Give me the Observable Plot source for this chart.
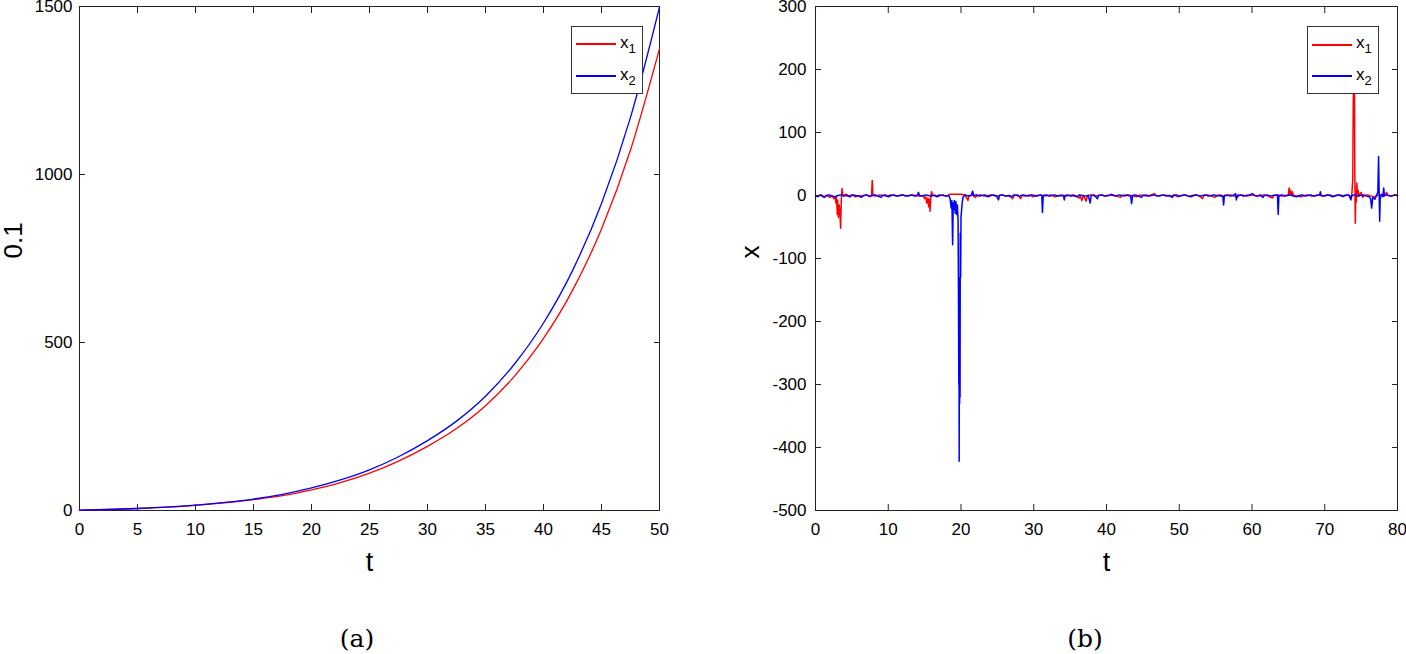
<!DOCTYPE html>
<html><head><meta charset="utf-8">
<script src="https://cdn.jsdelivr.net/npm/d3@7"></script>
<script src="https://cdn.jsdelivr.net/npm/@observablehq/plot@0.6"></script>
<style>
body{margin:0;background:#fff;}
#wrap{position:relative;width:1406px;height:654px;overflow:hidden;font-family:"Liberation Sans",Arial,sans-serif;background:#fff;}
.panel{position:absolute;top:0;width:703px;}
.legend{position:absolute;box-sizing:border-box;width:72px;height:68px;background:#fff;border:1px solid #333;}
.legend .ln{position:absolute;left:4px;width:40px;height:2px;}
.legend .lb{position:absolute;left:48px;font-size:17px;line-height:17px;color:#000;white-space:nowrap;}
.legend .lb span{position:relative;top:5px;font-size:13px;}
.cap{position:absolute;top:624px;font-family:"DejaVu Serif",serif;font-size:25px;transform:translateX(-50%);color:#000;}
</style></head>
<body>
<div id="wrap">
  <div class="panel" id="pa" style="left:0"></div>
  <div class="panel" id="pb" style="left:703px"></div>
  <div class="legend" style="left:571px;top:26px">
    <div class="ln" style="top:16px;background:#ff0000"></div><div class="lb" style="top:7px">x<span>1</span></div>
    <div class="ln" style="top:48px;background:#0000ff"></div><div class="lb" style="top:39px">x<span>2</span></div>
  </div>
  <div class="legend" style="left:1307px;top:26px">
    <div class="ln" style="top:17px;background:#ff0000"></div><div class="lb" style="top:7px">x<span>1</span></div>
    <div class="ln" style="top:48px;background:#0000ff"></div><div class="lb" style="top:39px">x<span>2</span></div>
  </div>
  <div class="cap" style="left:357px">(a)</div>
  <div class="cap" style="left:1085px">(b)</div>
</div>
<script>
// ---------- Panel (a) data ----------
const tA  = [0, 2.5, 5, 7.5, 10, 12.5, 15, 17.5, 20, 22.5, 25, 27.5, 30, 32.5, 35, 37.5, 40, 42.5, 45, 47.5, 50];
const x1A = [1, 3, 6, 10, 15.5, 23, 32.5, 44, 61.5, 83, 111, 147, 191, 244, 312, 400, 512, 655, 838, 1073, 1374];
const x2A = [1, 3, 6, 10, 16, 24, 34, 48, 67, 91, 121, 160, 208, 266, 340, 436, 558, 714, 914, 1170, 1498];
const xTicksA = [0, 5, 10, 15, 20, 25, 30, 35, 40, 45, 50];
const yTicksA = [0, 500, 1000, 1500];

// ---------- Panel (b) data: [t, value] ----------
const x1B = [[0,0],[0.4,-1],[0.8,1],[1.2,-2],[1.6,0],[2,-3],[2.3,0],[2.5,-5],[2.7,-2],[2.8,-12],[2.9,-4],[3.0,-30],[3.05,-8],[3.15,-35],[3.25,-15],[3.35,-25],[3.45,-52],[3.55,-6],[3.65,11],[3.75,0],[4.2,2],[4.6,-1],[5,1],[5.5,-2],[6,0],[6.5,-1],[7,1],[7.5,-2],[7.7,0],[7.8,24],[7.9,0],[8.3,-1],[8.8,1],[9.3,0],[9.8,-1],[10.3,1],[10.8,0],[11.3,-1],[11.8,1],[12.3,0],[12.8,-1],[13.3,1],[13.8,0],[14.3,-1],[14.8,0],[15.0,-5],[15.15,-2],[15.3,-12],[15.45,-4],[15.55,-18],[15.65,-6],[15.75,-25],[15.85,-2],[15.95,6],[16.1,0],[16.5,-1],[17,1],[17.5,0],[18,-1],[18.5,2],[19,2],[19.5,2],[20,2],[20.5,1],[20.8,-4],[20.95,-8],[21.1,0],[21.5,1],[22,-3],[22.2,0],[22.7,1],[23.2,-1],[23.7,0],[24.2,1],[24.7,-1],[25.2,0],[25.7,1],[26.2,-1],[26.7,0],[27.1,-5],[27.3,0],[27.8,1],[28.2,-5],[28.4,0],[28.9,-1],[29.4,1],[29.9,-2],[30.4,0],[30.9,1],[31.4,-1],[31.9,0],[32.4,1],[32.9,-2],[33.4,0],[33.9,1],[34.4,-1],[34.9,0],[35.4,1],[35.9,-1],[36.2,-4],[36.4,-1],[36.6,-8],[36.8,-1],[37.0,-3],[37.2,-9],[37.4,0],[37.9,1],[38.4,-1],[38.9,0],[39.4,1],[39.9,-1],[40.4,0],[40.9,1],[41.4,-1],[41.9,-3],[42.1,0],[42.6,1],[43.1,-1],[43.6,0],[44.1,-2],[44.6,1],[45.1,0],[45.6,-1],[46.1,1],[46.6,3],[46.8,0],[47.3,-1],[47.8,1],[48.3,0],[48.8,-1],[49.3,1],[49.8,-2],[50.3,0],[50.8,1],[51.3,-1],[51.8,0],[52.3,1],[52.8,-1],[53.2,-5],[53.4,0],[53.9,1],[54.4,-1],[54.9,-3],[55.1,0],[55.6,1],[56.1,-1],[56.6,0],[57.1,1],[57.6,-1],[58.0,-3],[58.2,0],[58.7,1],[59.2,-1],[59.7,0],[60.2,1],[60.7,-1],[61.2,0],[61.7,1],[62.2,-1],[62.8,-4],[63.0,0],[63.5,1],[64,-1],[64.5,0],[65.0,1],[65.1,12],[65.2,2],[65.3,8],[65.4,0],[65.55,6],[65.7,0],[66.2,-1],[66.7,-2],[67.2,0],[67.7,1],[68.2,-1],[68.7,0],[69.2,1],[69.7,-1],[70.2,0],[70.7,1],[71.2,-1],[71.7,0],[72.2,1],[72.5,-2],[72.8,0],[73.3,1],[73.5,-5],[73.7,-2],[73.85,25],[73.92,150],[73.98,190],[74.03,110],[74.08,185],[74.13,40],[74.2,-44],[74.27,5],[74.33,-10],[74.4,20],[74.5,2],[74.6,8],[74.7,-1],[75,5],[75.2,-3],[75.4,0],[75.9,1],[76.4,-1],[76.9,-2],[77.2,0],[77.7,1],[78.2,-1],[78.5,5],[78.7,0],[79.2,-1],[79.6,1],[80,0]];
const x2B = [[0,0],[0.3,-2],[0.6,1],[0.9,-1],[1.2,-3],[1.5,0],[1.9,1],[2.3,-1],[2.7,-2],[3.1,0],[3.5,1],[3.9,-1],[4.3,0],[4.7,-2],[5.1,1],[5.5,0],[5.9,-1],[6.3,-3],[6.6,0],[7,1],[7.4,-1],[7.8,0],[8.2,1],[8.6,-1],[9.0,-3],[9.2,0],[9.6,1],[10,-2],[10.4,0],[10.8,1],[11.2,-1],[11.6,0],[12,1],[12.4,-1],[12.8,0],[13.2,1],[13.6,-1],[14.0,0],[14.15,5],[14.3,0],[14.7,-1],[15.1,1],[15.5,0],[15.9,-1],[16.3,1],[16.7,-2],[17.1,0],[17.5,1],[17.9,-1],[18.3,0],[18.5,-5],[18.65,-20],[18.75,-8],[18.85,-78],[18.93,-12],[19.0,-22],[19.1,-8],[19.2,-28],[19.3,-10],[19.4,-30],[19.5,-15],[19.6,-40],[19.65,-150],[19.7,-300],[19.72,-140],[19.75,-422],[19.78,-210],[19.81,-330],[19.84,-130],[19.87,-320],[19.9,-60],[19.95,-130],[20.0,-35],[20.1,-20],[20.2,-8],[20.3,-2],[20.6,1],[21.0,-1],[21.4,0],[21.6,7],[21.75,0],[22.1,1],[22.5,-1],[22.9,0],[23.3,1],[23.7,-2],[24.1,0],[24.5,1],[24.9,-1],[25.15,-7],[25.3,0],[25.7,1],[26.1,-1],[26.5,0],[26.9,-2],[27.3,1],[27.7,0],[28.1,-1],[28.5,1],[28.9,0],[29.3,-1],[29.7,1],[30.1,0],[30.5,-1],[30.9,1],[31.1,0],[31.2,-27],[31.3,0],[31.7,1],[32.1,-1],[32.5,0],[32.9,1],[33.3,-1],[33.7,0],[34.1,-1],[34.2,-7],[34.3,0],[34.7,1],[35.1,-1],[35.5,0],[35.9,-2],[36.3,1],[36.7,0],[37.1,-1],[37.5,0],[37.75,-12],[37.9,0],[38.3,1],[38.75,-5],[38.9,0],[39.3,1],[39.7,-1],[40.1,0],[40.5,1],[40.7,2],[40.9,0],[41.3,-1],[41.7,1],[42.1,0],[42.5,-1],[42.9,1],[43.3,0],[43.45,-13],[43.6,0],[44.0,1],[44.4,-1],[44.8,-3],[45.0,0],[45.4,1],[45.8,-1],[46.2,0],[46.6,1],[47.0,-1],[47.4,0],[47.8,1],[48.2,-1],[48.6,0],[49.05,-3],[49.2,0],[49.6,1],[50,-1],[50.4,0],[50.8,1],[51.2,-1],[51.6,-2],[52.0,0],[52.4,1],[52.8,-1],[53.2,0],[53.6,1],[54.0,-1],[54.4,0],[54.8,1],[55.2,-1],[55.6,0],[56.0,-2],[56.1,-15],[56.2,0],[56.6,1],[57.0,-1],[57.4,0],[57.75,3],[57.85,-7],[57.95,0],[58.4,1],[58.8,-1],[59.2,0],[59.6,1],[60.1,3],[60.3,0],[60.7,-1],[61.1,1],[61.5,-3],[61.7,0],[62.1,1],[62.5,-1],[62.9,0],[63.3,1],[63.5,0],[63.6,-30],[63.7,0],[64.1,1],[64.5,-1],[64.9,0],[65.3,1],[65.7,-1],[66.1,-2],[66.5,0],[66.9,1],[67.3,-1],[67.7,0],[68.1,1],[68.5,-1],[68.9,0],[69.3,1],[69.4,6],[69.5,0],[69.9,-1],[70.3,1],[70.7,0],[71.1,-2],[71.5,0],[71.9,1],[72.3,-1],[72.7,0],[73.1,1],[73.5,-1],[73.6,-7],[73.7,0],[74.1,1],[74.5,-1],[74.9,0],[75.3,1],[75.7,-1],[76.1,-2],[76.3,-5],[76.45,-20],[76.6,-3],[76.9,-6],[77.1,0],[77.3,5],[77.4,62],[77.47,10],[77.55,-41],[77.62,-5],[77.8,2],[78.0,-2],[78.1,12],[78.2,0],[78.6,1],[79,-1],[79.4,0],[79.8,1],[80,-1]];
const xTicksB = [0, 10, 20, 30, 40, 50, 60, 70, 80];
const yTicksB = [-500, -400, -300, -200, -100, 0, 100, 200, 300];

const fmt = d => String(d);
const baseStyle = {fontFamily: '"Liberation Sans", Arial, sans-serif', fontSize: "17px", color: "#000", background: "#fff", overflow: "visible"};

const plotA = Plot.plot({
  width: 703, height: 610,
  marginLeft: 79, marginRight: 44, marginTop: 6, marginBottom: 100,
  style: baseStyle,
  x: {domain: [0, 50]},
  y: {domain: [0, 1500]},
  marks: [
    Plot.frame({stroke: "#222"}),
    Plot.axisX({ticks: xTicksA, tickSize: -6, tickPadding: 18, tickFormat: fmt, label: null, stroke: "#222"}),
    Plot.axisX({anchor: "top", ticks: xTicksA, tickSize: -6, tickFormat: () => "", label: null, stroke: "#222"}),
    Plot.axisY({ticks: yTicksA, tickSize: -6, tickPadding: 13, tickFormat: fmt, label: null, stroke: "#222"}),
    Plot.axisY({anchor: "right", ticks: yTicksA, tickSize: -6, tickFormat: () => "", label: null, stroke: "#222"}),
    Plot.line(tA, {x: d => d, y: (d, i) => x1A[i], stroke: "#ff0000", strokeWidth: 1.3, curve: "monotone-x"}),
    Plot.line(tA, {x: d => d, y: (d, i) => x2A[i], stroke: "#0000ff", strokeWidth: 1.3, curve: "monotone-x"}),
    Plot.text(["t"], {text: d => d, frameAnchor: "bottom", dy: 60, fontSize: 27}),
    Plot.text(["0.1"], {text: d => d, frameAnchor: "left", dx: -66, rotate: -90, fontSize: 26})
  ]
});
document.getElementById("pa").append(plotA);

const plotB = Plot.plot({
  width: 703, height: 610,
  marginLeft: 112, marginRight: 9, marginTop: 6, marginBottom: 100,
  style: baseStyle,
  x: {domain: [0, 80]},
  y: {domain: [-500, 300]},
  marks: [
    Plot.line(x1B, {x: d => d[0], y: d => d[1], stroke: "#ff0000", strokeWidth: 1.5}),
    Plot.line(x2B, {x: d => d[0], y: d => d[1], stroke: "#0000ff", strokeWidth: 1.5}),
    Plot.frame({stroke: "#222"}),
    Plot.axisX({ticks: xTicksB, tickSize: -6, tickPadding: 18, tickFormat: fmt, label: null, stroke: "#222"}),
    Plot.axisX({anchor: "top", ticks: xTicksB, tickSize: -6, tickFormat: () => "", label: null, stroke: "#222"}),
    Plot.axisY({ticks: yTicksB, tickSize: -6, tickPadding: 15, tickFormat: fmt, label: null, stroke: "#222"}),
    Plot.axisY({anchor: "right", ticks: yTicksB, tickSize: -6, tickFormat: () => "", label: null, stroke: "#222"}),
    Plot.text(["t"], {text: d => d, frameAnchor: "bottom", dy: 60, fontSize: 27}),
    Plot.text(["x"], {text: d => d, frameAnchor: "left", dx: -65, rotate: -90, fontSize: 26})
  ]
});
document.getElementById("pb").append(plotB);
</script>
</body></html>
